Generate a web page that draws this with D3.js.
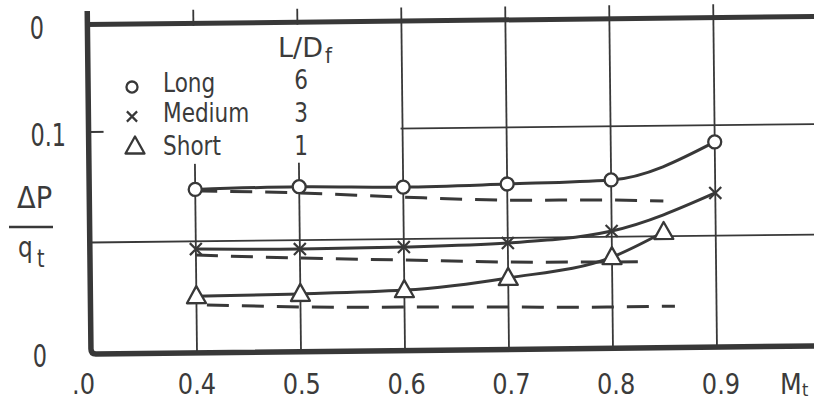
<!DOCTYPE html>
<html lang="en">
<head>
<meta charset="UTF-8">
<title>Pressure drag coefficient vs throat Mach number</title>
<style>
    body { margin: 0; background: #fff; }
    svg { display: block; }
    text { font-family: "DejaVu Sans", sans-serif; fill: #3b3b3b; }
</style>
</head>
<body>
<svg id="chart" width="814" height="401"></svg>
<script src="https://d3js.org/d3.v7.min.js"></script>
<script>
    // Mach stations for each nozzle length
    var machLong = [0.4, 0.5, 0.6, 0.7, 0.8, 0.9];
    var machMedium = [0.4, 0.5, 0.6, 0.7, 0.8, 0.9];
    var machShort = [0.4, 0.5, 0.6, 0.7, 0.8, 0.85];

    // measured dP/qt (solid curves with markers)
    var longMeasured = [0.0735, 0.0742, 0.0735, 0.0744, 0.0757, 0.0924];
    var mediumMeasured = [0.0465, 0.0460, 0.0464, 0.0477, 0.0526, 0.0693];
    var shortMeasured = [0.0252, 0.0257, 0.0269, 0.0319, 0.0408, 0.0519];

    // dashed reference curves
    var machLongDash = [0.4, 0.5, 0.6, 0.7, 0.8, 0.85];
    var longDash = [0.0728, 0.0714, 0.0690, 0.0671, 0.0666, 0.0659];
    var machMediumDash = [0.4, 0.5, 0.6, 0.7, 0.8, 0.83];
    var mediumDash = [0.0438, 0.0419, 0.0405, 0.0391, 0.0386, 0.0385];
    var machShortDash = [0.41, 0.5, 0.6, 0.7, 0.8, 0.86];
    var shortDash = [0.0212, 0.0198, 0.0192, 0.0187, 0.0182, 0.0183];

    // axes
    var xTicks = [0.4, 0.5, 0.6, 0.7, 0.8, 0.9];
    var xTickLabels = ['0.4', '0.5', '0.6', '0.7', '0.8', '0.9'];
    var yTicks = [0.1485, 0.1, 0];
    var yTickLabels = ['0', '0.1', '0'];
    var yGrid = [0.05, 0.1];

    // legend
    var legendNames = ['Long', 'Medium', 'Short'];
    var legendLD = ['6', '3', '1'];
    var legendMarks = ['circle', 'cross', 'triangle'];

    var ink = '#383838';
    var svg = d3.select('#chart');

    var x = d3.scaleLinear().domain([0.3, 1.0]).range([93, 821]);
    var y = d3.scaleLinear().domain([0, 0.1]).range([353, 132]);
    var xLabelPos = d3.scaleLinear().domain([0.4, 0.9]).range([197, 721]);

    // the scanned figure is slightly tilted
    var plot = svg.append('g').attr('transform', 'rotate(-0.63, 91, 353)');

    // grid
    plot.selectAll('.vgrid').data(xTicks).enter().append('line')
        .attr('x1', d => x(d)).attr('x2', d => x(d))
        .attr('y1', 11).attr('y2', y(0))
        .attr('stroke', ink).attr('stroke-width', 1.8);
    plot.selectAll('.hgrid').data(yGrid).enter().append('line')
        .attr('x1', 92).attr('x2', 830)
        .attr('y1', d => y(d)).attr('y2', d => y(d))
        .attr('stroke', ink).attr('stroke-width', 1.8);

    // white legend panel hides the grid behind it
    plot.append('rect')
        .attr('x', 106).attr('y', 27).attr('width', 297).attr('height', 138)
        .attr('fill', '#fff');

    function pts(ms, vs) { return ms.map((m, i) => [m, vs[i]]); }

    var line = d3.line().x(d => x(d[0])).y(d => y(d[1])).curve(d3.curveMonotoneX);

    [[machLongDash, longDash], [machMediumDash, mediumDash], [machShortDash, shortDash]].forEach(function (s) {
        plot.append('path').attr('d', line(pts(s[0], s[1])))
            .attr('fill', 'none').attr('stroke', ink).attr('stroke-width', 3)
            .attr('stroke-dasharray', '22,13');
    });

    var solids = [
        { m: machLong, v: longMeasured, mark: 'circle' },
        { m: machMedium, v: mediumMeasured, mark: 'cross' },
        { m: machShort, v: shortMeasured, mark: 'triangle' }
    ];
    solids.forEach(function (s) {
        plot.append('path').attr('d', line(pts(s.m, s.v)))
            .attr('fill', 'none').attr('stroke', ink).attr('stroke-width', 3);
    });

    function drawMark(g, type, cx, cy, k) {
        if (type === 'circle') {
            g.append('circle').attr('cx', cx).attr('cy', cy).attr('r', 6.5 * k)
                .attr('fill', '#fff').attr('stroke', ink).attr('stroke-width', 2.3);
        } else if (type === 'cross') {
            var a = 6 * k;
            g.append('path')
                .attr('d', `M${cx - a},${cy - a}L${cx + a},${cy + a}M${cx + a},${cy - a}L${cx - a},${cy + a}`)
                .attr('fill', 'none').attr('stroke', ink).attr('stroke-width', 2.2);
        } else {
            g.append('path')
                .attr('d', `M${cx},${cy - 10 * k}L${cx + 9.5 * k},${cy + 7 * k}L${cx - 9.5 * k},${cy + 7 * k}Z`)
                .attr('fill', '#fff').attr('stroke', ink).attr('stroke-width', 2.3)
                .attr('stroke-linejoin', 'round');
        }
    }
    solids.forEach(function (s) {
        s.m.forEach(function (m, i) { drawMark(plot, s.mark, x(m), y(s.v[i]), 1); });
    });

    // frame
    plot.append('line').attr('x1', 90).attr('x2', 830).attr('y1', 24.5).attr('y2', 24.5)
        .attr('stroke', ink).attr('stroke-width', 5);
    plot.append('path').attr('d', 'M91,11 L91,349 Q91,354 96,354 L830,354')
        .attr('fill', 'none').attr('stroke', ink).attr('stroke-width', 5.5);

    // labels (horizontally condensed lettering)
    function label(x0, y0, str, size, anchor, sx) {
        return svg.append('text')
            .attr('transform', `translate(${x0},${y0}) scale(${sx},1)`)
            .attr('text-anchor', anchor)
            .style('font-size', size + 'px')
            .text(str);
    }

    xTicks.forEach((t, i) => label(xLabelPos(t), 394, xTickLabels[i], 28, 'middle', 0.86));
    label(95, 394, '.0', 28, 'end', 0.86);
    yTicks.forEach((t, i) => label(t === 0 ? 47 : (i === 0 ? 44 : 66), y(t) + 14, yTickLabels[i], 32, 'end', 0.7));

    label(780, 394, 'M', 28, 'start', 0.9);
    label(802, 396, 't', 18, 'start', 0.9);

    label(17, 208, 'ΔP', 31, 'start', 0.88);
    svg.append('line').attr('x1', 9).attr('x2', 53).attr('y1', 227).attr('y2', 227)
        .attr('stroke', ink).attr('stroke-width', 2.6);
    label(18, 257, 'q', 29, 'start', 0.8);
    label(37, 267, 't', 24, 'start', 0.8);

    // legend
    label(278, 57, 'L/D', 27, 'start', 1.0);
    label(325, 63, 'f', 22, 'start', 0.9);
    var rowY = [92, 122, 155];
    var markY = [87, 116.5, 146.5];
    legendNames.forEach(function (n, i) {
        label(163, rowY[i], n, 27, 'start', 0.8);
        label(301, rowY[i] - (i === 0 ? 3 : 0), legendLD[i], 27, 'middle', 0.8);
        drawMark(svg, legendMarks[i], i === 2 ? 135 : 132, markY[i], i === 2 ? 1.0 : 0.85);
    });
</script>
</body>
</html>
